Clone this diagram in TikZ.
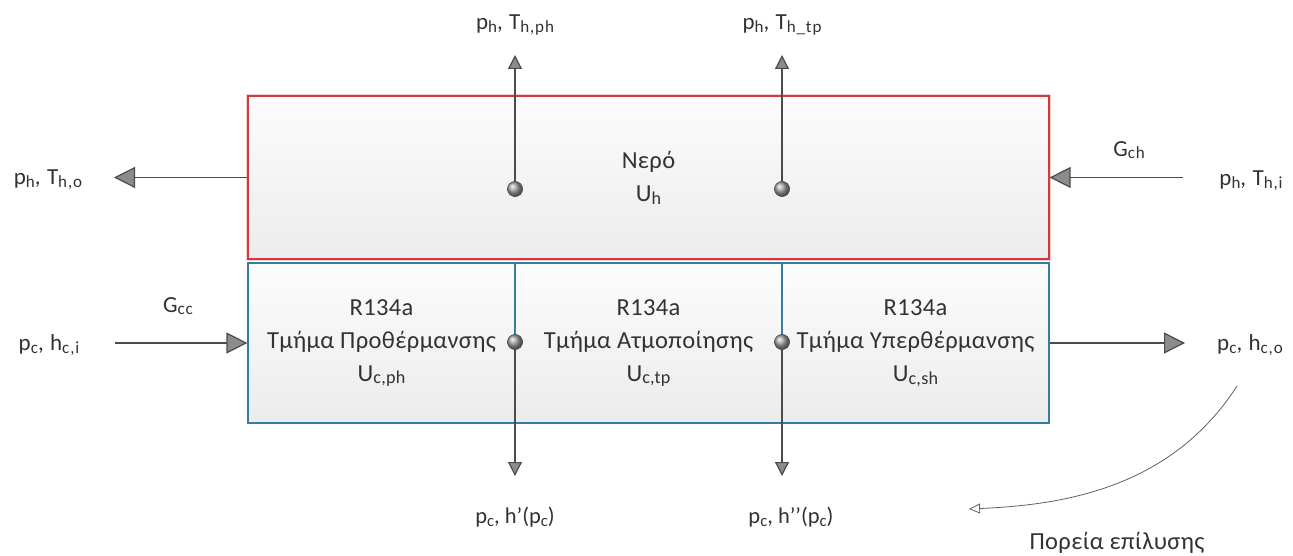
\documentclass[tikz,border=0pt]{standalone}
\usepackage{fontspec}
\setmainfont{Carlito}
\newfontfamily\boxfnt[LetterSpace=1.5]{Carlito}
\newfontfamily\tagfnt[LetterSpace=5]{Carlito}
\usetikzlibrary{arrows.meta}

\definecolor{inkgray}{RGB}{50,50,50}
\definecolor{linegray}{RGB}{75,75,75}
\definecolor{tipgray}{RGB}{140,140,140}
\definecolor{waterred}{RGB}{205,60,65}
\definecolor{glowred}{RGB}{245,205,205}
\definecolor{refblue}{RGB}{50,125,160}
\definecolor{boxtop}{RGB}{252,252,252}
\definecolor{boxbot}{RGB}{236,236,236}

% small lowered index, as in p_h, T_{h,o}
\newcommand{\sbs}[1]{\raisebox{-0.12em}{\scalebox{0.74}{#1}}}

\tikzset{
  mainfont/.style={font=\boxfnt\fontsize{24.5}{33}\selectfont, text=inkgray},
  labfont/.style={font=\tagfnt\fontsize{23}{26}\selectfont, text=inkgray},
  lowfont/.style={font=\fontsize{22.5}{26}\selectfont, text=inkgray},
  plainlabel/.style={labfont, inner sep=0pt},
  lowlabel/.style={lowfont, inner sep=0pt},
  hotbox/.style={draw=waterred, line width=1.2pt, top color=boxtop, bottom color=boxbot,
    minimum width=801pt, minimum height=163pt, inner sep=0pt, align=center, mainfont},
  coldbox/.style={draw=refblue, line width=1.2pt, top color=boxtop, bottom color=boxbot,
    minimum width=267pt, minimum height=160pt, inner sep=0pt, align=center, mainfont},
  tapdot/.style={circle, minimum size=15pt, inner sep=0pt, shading=ball, ball color=gray!70,
    draw=gray!60!black, line width=0.4pt},
  hflow/.style={draw=linegray, line width=1.2pt,
    -{Triangle[length=21pt,width=21pt,fill=tipgray]}},
  vflow/.style={draw=linegray, line width=1.2pt,
    -{Triangle[length=14pt,width=14pt,fill=tipgray]}},
  pathflow/.style={draw=gray!75!black, line width=0.8pt,
    -{Triangle[open,length=11pt,width=10pt]}},
}

\begin{document}
\begin{tikzpicture}[x=1pt,y=-1pt]
\useasboundingbox (0,0) rectangle (1293,556);

% water side
\draw[glowred, line width=3.5pt] (248,96) rectangle (1049,259);
\node[hotbox] (water) at (648.5,177.5) {Νερό\\U\sbs{h}};

% refrigerant side, three zones
\node[coldbox] (pre) at (381.5,343) {R134a\\Τμήμα Προθέρμανσης\\U\sbs{c,ph}};
\node[coldbox] (tp)  at (648.5,343) {R134a\\Τμήμα Ατμοποίησης\\U\sbs{c,tp}};
\node[coldbox] (sup) at (915.5,343) {R134a\\Τμήμα Υπερθέρμανσης\\U\sbs{c,sh}};

% tapping points
\node[tapdot] (d1) at (515,189) {};
\node[tapdot] (d2) at (782,189) {};
\node[tapdot] (d3) at (515,342) {};
\node[tapdot] (d4) at (782,342) {};

% free ends of the connectors
\coordinate (t1) at (515,55);
\coordinate (t2) at (782,55);
\coordinate (t3) at (515,476);
\coordinate (t4) at (782,476);
\coordinate (hout) at (114,177.5);
\coordinate (hin) at (1183,177.5);
\coordinate (cin) at (115,343);
\coordinate (cout) at (1185,343);
\coordinate (ps) at (1237,386);
\coordinate (pe) at (969,509);

% water streams
\draw[hflow] (water.west) -- (hout);
\draw[hflow] (hin) -- (water.east);
\draw[vflow] (d1) -- (t1);
\draw[vflow] (d2) -- (t2);

% refrigerant streams
\draw[hflow] (cin) -- (pre.west);
\draw[hflow] (sup.east) -- (cout);
\draw[vflow] (d3) -- (t3);
\draw[vflow] (d4) -- (t4);

% redraw dots on top of the lines
\foreach \d in {d1,d2,d3,d4} \node[tapdot] at (\d) {};

% order of solution
\draw[pathflow] (ps) .. controls (1170,490) and (1060,505) .. (pe);

% labels
\node[plainlabel] (l1) at (515,25)  {p\sbs{h}, T\sbs{h,ph}};
\node[plainlabel] (l2) at (782,25)  {p\sbs{h}, T\sbs{h\_tp}};
\node[plainlabel] (l3) at (48,180)  {p\sbs{h}, T\sbs{h,o}};
\node[plainlabel] (l4) at (1251,181) {p\sbs{h}, T\sbs{h,i}};
\node[plainlabel] (l5) at (1129,150) {G\sbs{ch}};
\node[plainlabel] (l6) at (178,306) {G\sbs{cc}};
\node[plainlabel] (l7) at (49,345)  {p\sbs{c}, h\sbs{c,i}};
\node[plainlabel] (l8) at (1250,345) {p\sbs{c}, h\sbs{c,o}};
\node[lowlabel] (l9) at (515,517) {p\sbs{c}, h’(p\sbs{c})};
\node[lowlabel] (l10) at (791,517) {p\sbs{c}, h’’(p\sbs{c})};
\node[plainlabel, mainfont] (l11) at (1117,543) {Πορεία επίλυσης};
\end{tikzpicture}
\end{document}
